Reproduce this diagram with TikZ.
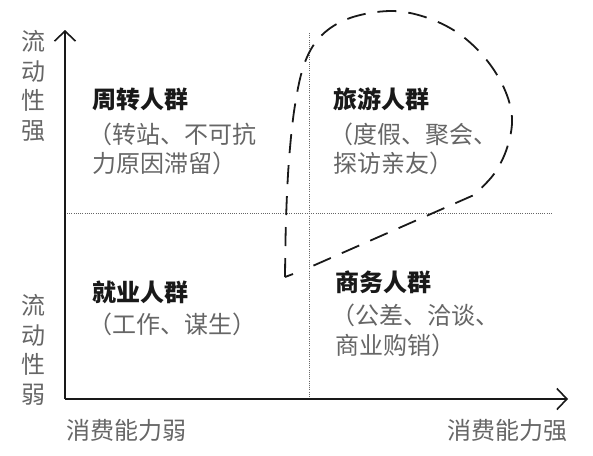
\documentclass[tikz,border=0pt]{standalone}
\usepackage{fontspec}
\setmainfont{Noto Sans CJK SC}
\usetikzlibrary{arrows.meta}
\begin{document}
\begin{tikzpicture}[x=1pt,y=-1pt,
  axis/.style={line width=2.2pt, black!90, -{Straight Barb[length=10pt,width=21pt,line width=1.6pt]}},
  gridline/.style={black!60, line width=0.9pt, dash pattern=on 1pt off 1.2pt},
  loopline/.style={line width=1.8pt, black!90, dash pattern=on 19pt off 12pt, line cap=butt},
  title/.style={anchor=west, inner sep=0pt, font=\fontsize{24}{24}\selectfont\bfseries, text=black!90},
  desc/.style={anchor=west, inner sep=0pt, font=\fontsize{24}{24}\selectfont, text=black!60},
  lab/.style={inner sep=0pt, font=\fontsize{24}{29.5}\selectfont, text=black!60},
]
\useasboundingbox (0,0) rectangle (593,455);

% axes
\coordinate (O) at (65,399);
\coordinate (ytip) at (65,30);
\coordinate (xtip) at (568,399);
\draw[axis] (O) -- (ytip);
\draw[axis] (O) -- (xtip);

% quadrant dividers
\coordinate (hl) at (67,213);
\coordinate (hr) at (553,213);
\coordinate (vt) at (309,33);
\coordinate (vb) at (309,397);
\draw[gridline] (hl) -- (hr);
\draw[gridline] (vt) -- (vb);

% dashed loop
\draw[loopline] (293,274) -- (285,277)
  plot[smooth, tension=0.6] coordinates {(285,277) (286,220) (289,160) (295,105) (305,62) (322,35) (350,18) (390,11) (425,17) (458,33) (485,58) (504,88) (512,118) (507,148) (494,174) (474,195)}
  -- (308,268);

% axis labels
\node[lab, align=center] (ystrong) at (33,86) {流\\动\\性\\强};
\node[lab, align=center] (yweak) at (33,350) {流\\动\\性\\弱};
\node[lab, anchor=west] (xweak) at (66,430) {消费能力弱};
\node[lab, anchor=east] (xstrong) at (568,430) {消费能力强};

% quadrant texts
\node[title] (q1t) at (92,99) {周转人群};
\node[desc] (q1a) at (88,134) {（转站、不可抗};
\node[desc] (q1b) at (92,163) {力原因滞留）};

\node[title] (q2t) at (333,99) {旅游人群};
\node[desc] (q2a) at (329,134) {（度假、聚会、};
\node[desc] (q2b) at (333,163) {探访亲友）};

\node[title] (q3t) at (92,292) {就业人群};
\node[desc] (q3a) at (88,324) {（工作、谋生）};

\node[title] (q4t) at (335,282) {商务人群};
\node[desc] (q4a) at (331,315) {（公差、洽谈、};
\node[desc] (q4b) at (335,345) {商业购销）};
\end{tikzpicture}
\end{document}
